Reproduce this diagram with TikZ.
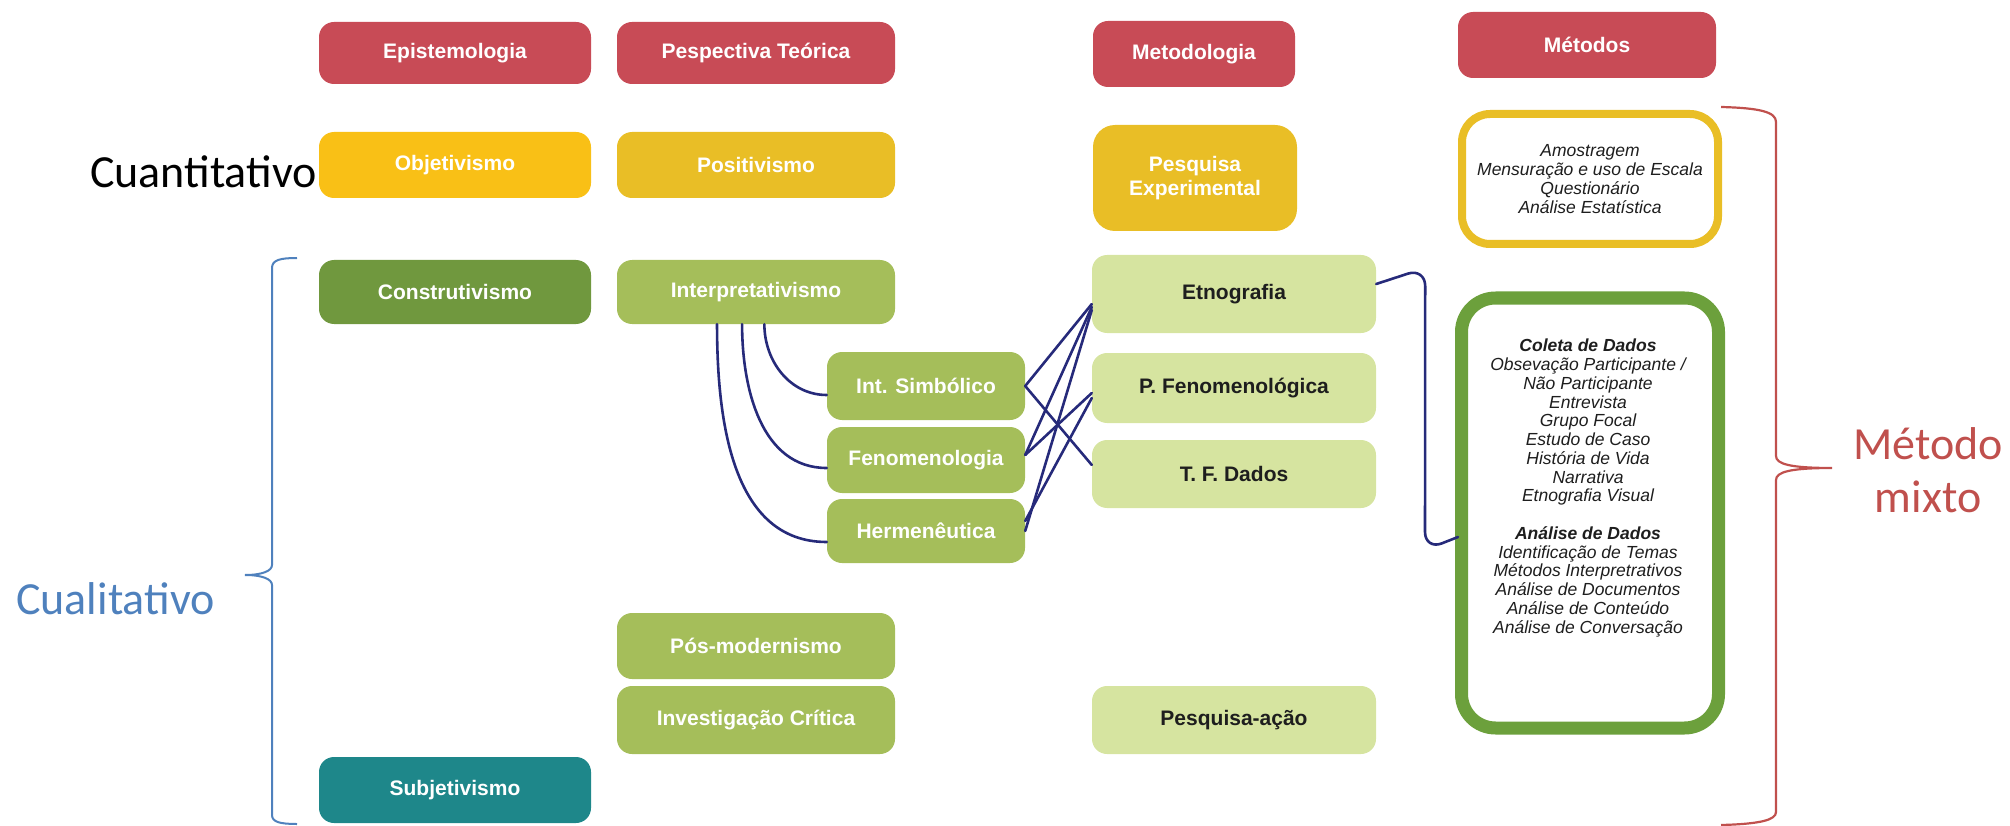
\documentclass[tikz,border=0pt]{standalone}
\usepackage{fontspec}
\setmainfont{Liberation Sans}
\newfontfamily\calibri{Carlito}
\usetikzlibrary{calc}
\definecolor{cred}{RGB}{200,75,86}
\definecolor{cyel1}{RGB}{249,192,22}
\definecolor{cyel2}{RGB}{233,190,38}
\definecolor{cgrn1}{RGB}{112,152,62}
\definecolor{cgrn2}{RGB}{165,190,90}
\definecolor{cgrn3}{RGB}{214,228,160}
\definecolor{cteal}{RGB}{30,135,138}
\definecolor{cnavy}{RGB}{38,42,122}
\definecolor{cblue}{RGB}{79,129,189}
\definecolor{cbred}{RGB}{192,80,77}
\definecolor{cmixg}{RGB}{108,160,60}
\definecolor{ctext}{RGB}{30,30,30}
\begin{document}
\begin{tikzpicture}[x=1pt,y=-1pt,
  blob/.style={rectangle, rounded corners=15pt, inner sep=0pt, align=center,
    font=\fontsize{21}{24}\selectfont\bfseries, text=white},
  lite/.style={blob, fill=cgrn3, text=ctext},
  mbox/.style={rectangle, rounded corners=28pt, inner sep=0pt, fill=white, line join=round},
  mtext/.style={font=\fontsize{17.5}{18.75}\selectfont\itshape, align=center, text=ctext, inner sep=0pt},
  conn/.style={draw=cnavy, line width=2.6pt, line cap=round},
  big/.style={font=\calibri\fontsize{46}{53}\selectfont, inner sep=0pt},
]
\useasboundingbox (0,0) rectangle (2010,826);

% row 1
\node[blob, fill=cred, minimum width=272pt, minimum height=62pt] (epis) at (455,53) {Epistemologia};
\node[blob, fill=cred, minimum width=278pt, minimum height=62pt] (persp) at (756,53) {Pespectiva Teórica};
\node[blob, fill=cred, minimum width=202pt, minimum height=66pt] (metod) at (1194,54) {Metodologia};
\node[blob, fill=cred, minimum width=258pt, minimum height=66pt] (metodos) at (1587,45) {Métodos};

% row 2
\node[blob, fill=cyel1, minimum width=272pt, minimum height=66pt] (obj) at (455,165) {Objetivismo};
\node[blob, fill=cyel2, minimum width=278pt, minimum height=66pt] (posit) at (756,165) {Positivismo};
\node[blob, fill=cyel2, minimum width=204pt, minimum height=106pt, rounded corners=22pt] (pexp) at (1195,178) {Pesquisa\\Experimental};
\node[mbox, mtext, draw=cyel2, line width=8pt, minimum width=256pt, minimum height=130pt] (quant) at (1590,179)
  {Amostragem\\Mensuração e uso de Escala\\Questionário\\Análise Estatística};

% row 3 and below
\node[blob, fill=cgrn1, minimum width=272pt, minimum height=64pt] (constr) at (455,292) {Construtivismo};
\node[blob, fill=cgrn2, minimum width=278pt, minimum height=64pt] (interp) at (756,292) {Interpretativismo};
\node[lite, minimum width=284pt, minimum height=78pt] (etno) at (1234,294) {Etnografia};
\node[blob, fill=cgrn2, minimum width=198pt, minimum height=68pt] (is) at (926,386) {Int. Simbólico};
\node[blob, fill=cgrn2, minimum width=198pt, minimum height=66pt] (fen) at (926,460) {Fenomenologia};
\node[blob, fill=cgrn2, minimum width=198pt, minimum height=64pt] (herm) at (926,531) {Hermenêutica};
\node[lite, minimum width=284pt, minimum height=70pt] (pfen) at (1234,388) {P. Fenomenológica};
\node[lite, minimum width=284pt, minimum height=68pt] (tfd) at (1234,474) {T. F. Dados};
\node[blob, fill=cgrn2, minimum width=278pt, minimum height=66pt] (pos) at (756,646) {Pós-modernismo};
\node[blob, fill=cgrn2, minimum width=278pt, minimum height=68pt] (invc) at (756,720) {Investigação Crítica};
\node[lite, minimum width=284pt, minimum height=68pt] (pacao) at (1234,720) {Pesquisa-ação};
\node[blob, fill=cteal, minimum width=272pt, minimum height=66pt] (subj) at (455,790) {Subjetivismo};

\node[mbox, draw=cmixg, line width=13pt, minimum width=257pt, minimum height=430pt, rounded corners=34pt] (mixbox) at (1590,513) {};
\node[mtext] (mixtext) at (1588,488) {{\bfseries Coleta de Dados}\\Obsevação Participante /\\Não Participante\\Entrevista\\Grupo Focal\\Estudo de Caso\\História de Vida\\Narrativa\\Etnografia Visual\\[18.75pt]{\bfseries Análise de Dados}\\Identificação de Temas\\Métodos Interpretrativos\\Análise de Documentos\\Análise de Conteúdo\\Análise de Conversação};

% side labels
\node[big, anchor=base east] (cuant) at (317,188) {Cuantitativo};
\node[big, anchor=base east, text=cblue] (cual) at (215,614) {Cualitativo};
\node[big, text=cbred, align=center] (mixto) at (1928,470) {Método\\mixto};

% braces
\draw[cblue, line width=2pt] (297,258) .. controls (280,258) and (272,260) .. (272,268) -- (272,565)
  .. controls (272,571) and (262,575) .. (245,575) .. controls (262,575) and (272,579) .. (272,585)
  -- (272,815) .. controls (272,822) and (280,824) .. (297,824);
\draw[cbred, line width=2.2pt] (1721,107) .. controls (1760,108) and (1776,112) .. (1776,122) -- (1776,456)
  .. controls (1776,464) and (1790,468) .. (1832,468) .. controls (1790,468) and (1776,472) .. (1776,480)
  -- (1776,812) .. controls (1776,820) and (1760,824) .. (1721,825);

% connectors
\draw[conn] ($(interp.south west)!0.36!(interp.south east)$) to[out=-90,in=180] ([yshift=-11pt]herm.west);
\draw[conn] ($(interp.south west)!0.45!(interp.south east)$) to[out=-90,in=180] ([yshift=-8pt]fen.west);
\draw[conn] ($(interp.south west)!0.53!(interp.south east)$) to[out=-90,in=180] ([yshift=-9pt]is.west);

\draw[conn] (is.east) -- ([yshift=-10pt]etno.west);
\draw[conn] (is.east) -- ([yshift=9pt]tfd.west);
\draw[conn] ([yshift=5pt]fen.east) -- ([yshift=-13pt]etno.west);
\draw[conn] ([yshift=5pt]fen.east) -- ([yshift=-5pt]pfen.west);
\draw[conn] (herm.east) -- ([yshift=-16pt]etno.west);
\draw[conn] ([yshift=10pt]herm.east) -- ([yshift=-10pt]pfen.west);

\draw[conn, rounded corners=18pt] ([yshift=10pt]etno.east) -- ($(etno.east)+(49,-26)$)
  -- ($(mixbox.west)+(-30,37)$) -- ($(mixbox.west)+(3,24)$);
\end{tikzpicture}
\end{document}
